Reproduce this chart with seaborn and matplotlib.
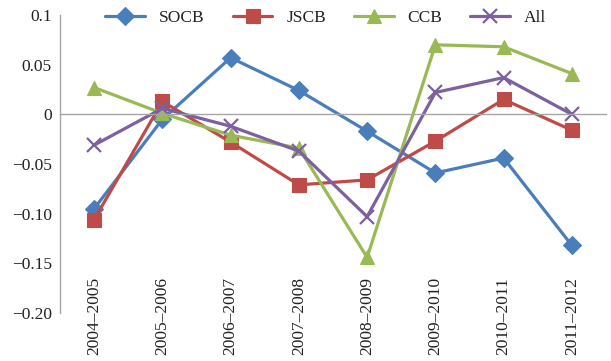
import matplotlib
matplotlib.use("Agg")
import matplotlib.pyplot as plt
import seaborn as sns
import numpy as np
import pandas as pd

periods = ["2004–2005", "2005–2006", "2006–2007", "2007–2008",
           "2008–2009", "2009–2010", "2010–2011", "2011–2012"]
socb = [-0.095, -0.005, 0.057, 0.024, -0.017, -0.059, -0.044, -0.132]
jscb = [-0.106, 0.013, -0.028, -0.071, -0.066, -0.027, 0.015, -0.016]
ccb = [0.027, 0.001, -0.021, -0.034, -0.144, 0.070, 0.068, 0.041]
all_banks = [-0.031, 0.006, -0.012, -0.037, -0.103, 0.022, 0.037, 0.000]

series_names = ["SOCB", "JSCB", "CCB", "All"]
series_values = [socb, jscb, ccb, all_banks]
colors = ["#4A7EBB", "#BE4B48", "#98B954", "#7D60A0"]
markers = ["D", "s", "^", "x"]
msizes = [9, 9.5, 10.5, 10]

ytick_vals = [0.1, 0.05, 0, -0.05, -0.10, -0.15, -0.20]
ytick_labels = ["0.1", "0.05", "0", "\u22120.05", "\u22120.10", "\u22120.15", "\u22120.20"]

sns.set_style("white")
plt.rcParams["font.family"] = ["Liberation Serif", "DejaVu Serif"]

fig = plt.figure(figsize=(6.11, 3.61), dpi=100)
ax = fig.add_axes([60/611, 1-313/361, 546/611, 298/361])

for name, vals, c, m, ms in zip(series_names, series_values, colors, markers, msizes):
    df = pd.DataFrame({"Period": periods, "Value": vals})
    sns.lineplot(data=df, x="Period", y="Value", ax=ax, color=c, marker=m,
                 markersize=ms, linewidth=2.3, label=name,
                 markeredgecolor=c, markeredgewidth=1.6 if m == "x" else 0.8,
                 sort=False)

ax.set_xlim(-0.5, len(periods) - 0.5)
ax.set_ylim(-0.2, 0.1)
ax.set_yticks(ytick_vals)
ax.set_yticklabels(ytick_labels)
ax.set_xlabel("")
ax.set_ylabel("")

grey = "#A6A6A6"
for s in ["top", "right"]:
    ax.spines[s].set_visible(False)
ax.spines["left"].set_color(grey)
ax.spines["left"].set_linewidth(1.0)
ax.spines["bottom"].set_position(("data", 0))
ax.spines["bottom"].set_color(grey)
ax.spines["bottom"].set_linewidth(1.0)

ax.set_xticks(np.arange(len(periods)))
ax.set_xticklabels(periods, rotation=90)
ax.set_xticks(np.arange(len(periods) + 1) - 0.5, minor=True)
ax.tick_params(axis="x", which="major", length=0, pad=117, labelsize=12.5,
               colors="#222222")
ax.tick_params(axis="x", which="minor", direction="in", length=3, width=1.0,
               color=grey)
ax.tick_params(axis="y", which="major", direction="out", length=3, width=1.0,
               color=grey, labelsize=12.5, labelcolor="#222222", pad=3)

leg = ax.legend(loc="center", bbox_to_anchor=(0.487, 0.99), ncol=4, frameon=False,
                fontsize=12.5, handlelength=2.3, handletextpad=0.8,
                columnspacing=1.6, borderaxespad=0)
for t in leg.get_texts():
    t.set_color("#222222")

fig.savefig("out.png", dpi=100)
